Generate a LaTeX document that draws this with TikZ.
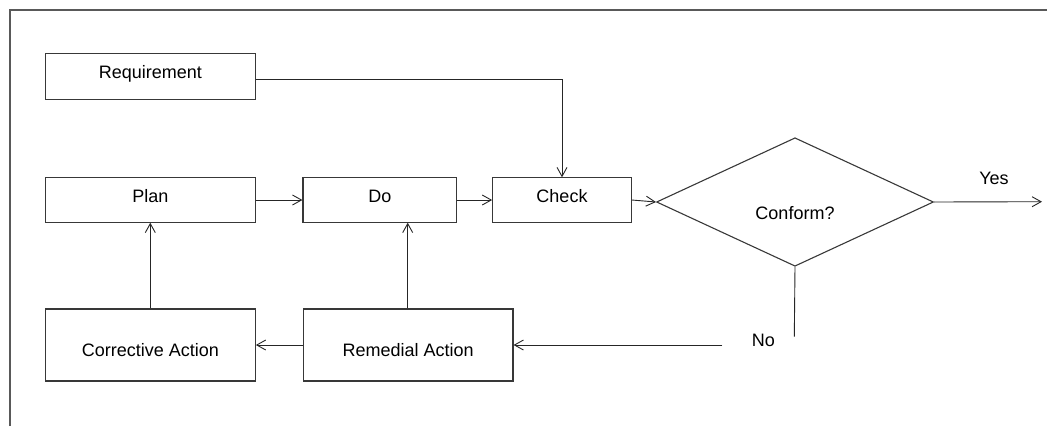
\documentclass[tikz,border=0pt]{standalone}
\usepackage{fontspec}
\setmainfont{Liberation Sans}
\usetikzlibrary{arrows.meta,shapes.geometric}

\tikzset{
  frameline/.style={draw=black!65, line width=1.5pt},
  box/.style={draw=black!78, line width=1.1pt, rectangle, inner sep=2pt,
    font=\fontsize{18pt}{20pt}\selectfont, text height=12.9pt},
  raised/.style={text depth=8pt},
  lifted/.style={text depth=7pt},
  lowered/.style={text height=23.9pt, text depth=0pt},
  decision/.style={draw=black!78, line width=1.1pt, diamond, inner sep=0pt},
  tag/.style={inner sep=0pt, font=\fontsize{18pt}{20pt}\selectfont,
    text height=12.9pt, text depth=0pt},
  conn/.style={draw=black!85, line width=0.9pt},
  flow/.style={conn, -{Straight Barb[length=9pt,width=10pt,line width=0.9pt]}}
}

\begin{document}
\begin{tikzpicture}[x=1pt, y=-1pt]
  \useasboundingbox (0,0) rectangle (1047,426);

  % page frame (top and left edges)
  \draw[frameline] (10,426) -- (10,10) -- (1047,10);

  % process boxes
  \node[box, raised, minimum width=210pt, minimum height=45.7pt] (req) at (150.3,76.2) {Requirement};
  \node[box, lifted, minimum width=210pt, minimum height=44.3pt] (plan) at (150.3,200) {Plan};
  \node[box, lifted, minimum width=153.7pt, minimum height=44.3pt] (do) at (379.8,200) {Do};
  \node[box, lifted, minimum width=138.6pt, minimum height=44.3pt] (chk) at (562,200) {Check};
  \node[box, lowered, minimum width=210pt, minimum height=72pt] (corr) at (150.3,345) {Corrective Action};
  \node[box, lowered, minimum width=209.6pt, minimum height=72pt] (rem) at (408.2,345) {Remedial Action};

  % decision
  \node[decision, minimum width=277pt, minimum height=128.5pt,
        label={[tag, name=conftext, yshift=-11.5pt]center:Conform?}] (dia) at (795,202) {};

  % branch labels
  \node[tag] (yes) at (994,178.5) {Yes};
  \node[tag] (no) at (763.3,340) {No};

  % free line ends
  \coordinate (yesend) at (1042,201.7);
  \coordinate (nostub) at (794.3,336.7);
  \coordinate (nostart) at (722.3,345);

  % connectors
  \draw[flow] (req.east |- 0,79.3) -| (chk.north);
  \draw[flow] (plan) -- (do);
  \draw[flow] (do) -- (chk);
  \draw[flow] (chk.east) -- (dia.west);
  \draw[flow] (dia.east) -- (yesend);
  \draw[conn] (dia.south) -- (nostub);
  \draw[flow] (nostart) -- (rem.east);
  \draw[flow] (rem.west) -- (corr.east);
  \draw[flow] (rem.north -| 407.7,0) -- (do.south -| 407.7,0);
  \draw[flow] (corr.north) -- (plan.south);
\end{tikzpicture}
\end{document}
